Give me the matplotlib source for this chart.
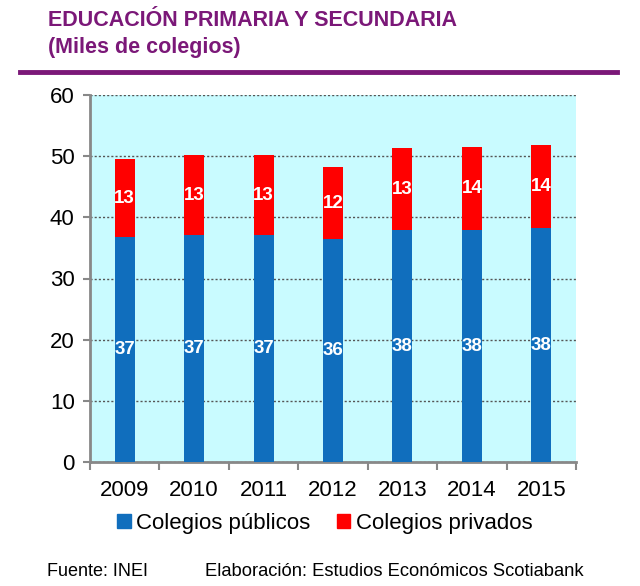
import matplotlib
matplotlib.use("Agg")
import matplotlib.pyplot as plt
import numpy as np
from matplotlib.patches import Rectangle
from matplotlib.lines import Line2D

years = ["2009", "2010", "2011", "2012", "2013", "2014", "2015"]
publicos = [36.8, 37.1, 37.1, 36.4, 37.9, 37.9, 38.2]
privados = [12.7, 13.1, 13.1, 11.8, 13.4, 13.6, 13.6]
yticks = [0, 10, 20, 30, 40, 50, 60]

plt.rcParams['font.family'] = ['Liberation Sans', 'DejaVu Sans']

W, H = 640, 586
fig = plt.figure(figsize=(W / 100, H / 100), dpi=100)
fig.patch.set_facecolor('white')

ax = fig.add_axes([90 / W, 1 - 462 / H, (576 - 90) / W, (462 - 95) / H])
ax.set_facecolor('#c9fbff')

x = np.arange(len(years))
blue = '#106ebd'
red = '#ff0000'
bw = 0.29
ax.bar(x, publicos, width=bw, color=blue, zorder=3)
ax.bar(x, privados, width=bw, bottom=publicos, color=red, zorder=3)

for xi, p, q in zip(x, publicos, privados):
    ax.text(xi, p / 2, f"{round(p)}", ha='center', va='center', color='white',
            fontsize=13.5, fontweight='bold', zorder=4)
    ax.text(xi, p + q / 2, f"{round(q)}", ha='center', va='center', color='white',
            fontsize=13.5, fontweight='bold', zorder=4)

ax.set_xlim(-0.5, len(years) - 0.5)
ax.set_ylim(0, 60)
ax.set_yticks(yticks)
ax.set_yticklabels([str(t) for t in yticks], fontsize=16)
ax.yaxis.grid(True, linestyle=(0, (1.5, 1.5)), color='#555555', linewidth=1.0, zorder=1)
ax.set_axisbelow(True)

ax.set_xticks(x)
ax.set_xticklabels(years, fontsize=16)
ax.set_xticks(np.arange(-0.5, len(years)), minor=True)
ax.tick_params(axis='x', which='major', length=0, pad=13)
ax.tick_params(axis='x', which='minor', length=6, color='#888888', width=1.5)
ax.tick_params(axis='y', length=5, color='#888888', width=1.5, pad=6)

for s in ['top', 'right']:
    ax.spines[s].set_visible(False)
for s in ['left', 'bottom']:
    ax.spines[s].set_color('#888888')
    ax.spines[s].set_linewidth(2)

purple = '#7b1878'
fig.text(48 / W, 1 - 21 / H, "EDUCACIÓN PRIMARIA Y SECUNDARIA", color=purple,
         fontsize=15.5, fontweight='bold', ha='left', va='center')
fig.text(48 / W, 1 - 47 / H, "(Miles de colegios)", color=purple,
         fontsize=15.5, fontweight='bold', ha='left', va='center')
fig.add_artist(Line2D([20 / W, 617 / W], [1 - 72 / H, 1 - 72 / H], color=purple,
                      linewidth=3.5, transform=fig.transFigure))

handles = [Rectangle((0, 0), 1, 1, color=blue), Rectangle((0, 0), 1, 1, color=red)]
fig.legend(handles, ["Colegios públicos", "Colegios privados"], loc='center',
           bbox_to_anchor=(325 / W, 1 - 523 / H), ncol=2, frameon=False,
           fontsize=16, handlelength=0.6, handleheight=0.6, handletextpad=0.25,
           columnspacing=1.2)

fig.text(47 / W, 1 - 572 / H, "Fuente: INEI", fontsize=13, ha='left', va='center')
fig.text(205 / W, 1 - 572 / H, "Elaboración: Estudios Económicos Scotiabank",
         fontsize=13.2, ha='left', va='center')

fig.savefig("out.png", dpi=100)
